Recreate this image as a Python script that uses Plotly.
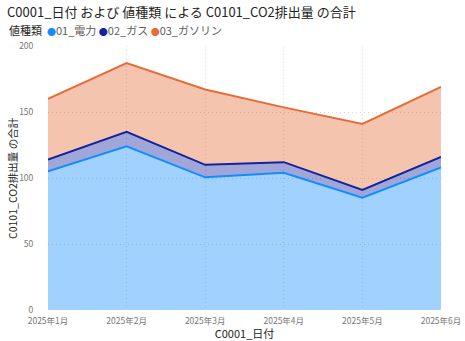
import plotly.graph_objects as go

# Monthly CO2 emissions by source
months = ["2025年1月", "2025年2月", "2025年3月", "2025年4月", "2025年5月", "2025年6月"]
series_names = ["01_電力", "02_ガス", "03_ガソリン"]
electricity = [105, 124, 100.5, 104, 85, 108]
gas = [9, 11, 9.5, 8, 6, 8]
gasoline = [46, 52, 57, 41.5, 50, 53]
y_ticks = [0, 50, 100, 150, 200]

line_colors = ["#118DFF", "#12239E", "#E66C37"]
fill_colors = ["rgba(17,141,255,0.4)", "rgba(18,35,158,0.4)", "rgba(230,108,55,0.4)"]

FONT = "Segoe UI, Noto Sans CJK JP, sans-serif"
GRID = "#D6D6D6"
PLOT_W = 465 - 48 - 24

fig = go.Figure()
for name, vals, lc, fc in zip(series_names, [electricity, gas, gasoline], line_colors, fill_colors):
    fig.add_trace(go.Scatter(
        x=months, y=vals, name=name, mode="lines", stackgroup="one",
        line=dict(color=lc, width=2), fillcolor=fc, showlegend=False,
    ))

# Legend row: title followed by coloured dots and series names
legend_items = [
    f"<span style='color:{lc};font-size:9px'>●</span><span style='color:#605E5C'>{name}</span>"
    for name, lc in zip(series_names, line_colors)
]
legend_text = "<span style='color:#252423'>値種類</span>  " + " ".join(legend_items)

fig.update_layout(
    width=465, height=341,
    margin=dict(l=48, r=24, t=46, b=31, autoexpand=False),
    paper_bgcolor="white", plot_bgcolor="white",
    font=dict(family=FONT, color="#252423"),
    title=dict(
        text="C0001_日付 および 値種類 による C0101_CO2排出量 の合計",
        x=7 / 465, xanchor="left", y=1 - 12 / 341, yanchor="middle",
        font=dict(size=13, color="#252423"),
    ),
    showlegend=False,
    annotations=[
        dict(
            text=legend_text, xref="paper", yref="paper",
            x=-41 / PLOT_W, xanchor="left", y=1 + 16 / 264, yanchor="middle",
            showarrow=False, font=dict(size=11),
        ),
        dict(
            text="C0101_CO2排出量 の合計", xref="paper", yref="paper",
            x=-36 / PLOT_W, xanchor="center", y=0.5, yanchor="middle",
            textangle=-90, showarrow=False, font=dict(size=10.5, color="#252423"),
        ),
    ],
    xaxis=dict(
        type="category", range=[0, 5], automargin=False,
        showgrid=True, gridcolor=GRID, griddash="1px,3px", gridwidth=1,
        tickfont=dict(size=8.5, color="#777777"),
        title=dict(text="C0001_日付", font=dict(size=11, color="#252423"), standoff=2),
        zeroline=False, showline=False, ticks="outside", ticklen=3, tickcolor="rgba(0,0,0,0)",
    ),
    yaxis=dict(
        range=[0, 200], tickvals=y_ticks, automargin=False,
        showgrid=True, gridcolor=GRID, griddash="1px,3px", gridwidth=1,
        tickfont=dict(size=8.5, color="#777777"),
        zeroline=False, showline=False, ticks="outside", ticklen=12, tickcolor="rgba(0,0,0,0)",
    ),
)

fig.write_html("out.html")
